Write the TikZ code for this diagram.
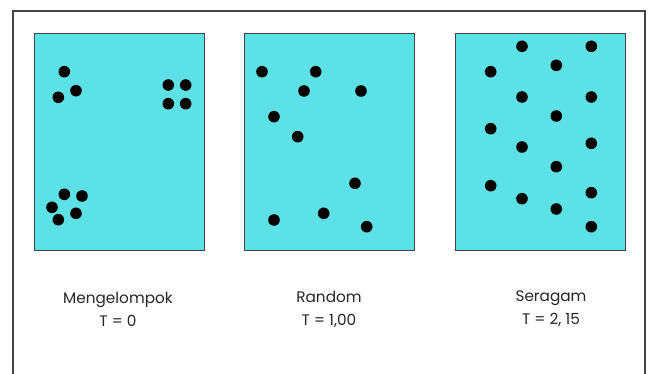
\documentclass[tikz,border=0pt]{standalone}
\usepackage{fontspec}
\setmainfont{Poppins}
\definecolor{panelcyan}{HTML}{5CE1E6}
\definecolor{framegray}{HTML}{444444}
\begin{document}
\begin{tikzpicture}[x=1pt,y=-1pt,
  panel/.style={draw=framegray,line width=1pt,fill=panelcyan},
  dot/.style={fill=black},
  lbl/.style={align=center,font=\fontsize{15.3}{23}\selectfont,text=black!85,inner sep=0pt}]
\useasboundingbox (0,0) rectangle (649,374);
\fill[white] (0,0) rectangle (649,374);
\draw[framegray,line width=1.2pt] (13,374) -- (13,11) -- (645,11) -- (645,374);
% panels
\draw[panel] (34,34) rectangle (204,251);
\draw[panel] (244,34) rectangle (414,251);
\draw[panel] (455,34) rectangle (625,251);
\def\r{5.8}
% clustered
\foreach \p in {(64.3,71.7),(76,90.7),(58.3,97.3),
  (168.3,85),(185.7,85),(168.3,103.7),(185.7,103.7),
  (64.3,194.3),(82,196),(52,207.3),(76,213.3),(58.3,219.7)}
  \fill[dot] \p circle (\r);
% random
\foreach \p in {(262,71.7),(315.7,71.7),(304,91),(361,91),(274,116.7),
  (297.7,136.7),(355,183.3),(274,220),(323.7,213.3),(366.7,226.7)}
  \fill[dot] \p circle (\r);
% uniform
\foreach \p in {(522,46.3),(591.3,46.3),(556.3,65.3),(490.7,71.7),
  (522,97),(591.3,97),(556.3,116),(490.7,128.7),(522,147),(591.3,143.3),
  (556.3,166.7),(490.7,185.7),(522,198.7),(591.3,192.7),(556.3,209),(591.3,226.7)}
  \fill[dot] \p circle (\r);
% labels
\node[lbl] (l1) at (118,309) {Mengelompok\\T = 0};
\node[lbl] (l2) at (329,309) {Random\\T = 1,00};
\node[lbl] (l3) at (551,309) {Seragam\\T = 2, 15};
\end{tikzpicture}
\end{document}
